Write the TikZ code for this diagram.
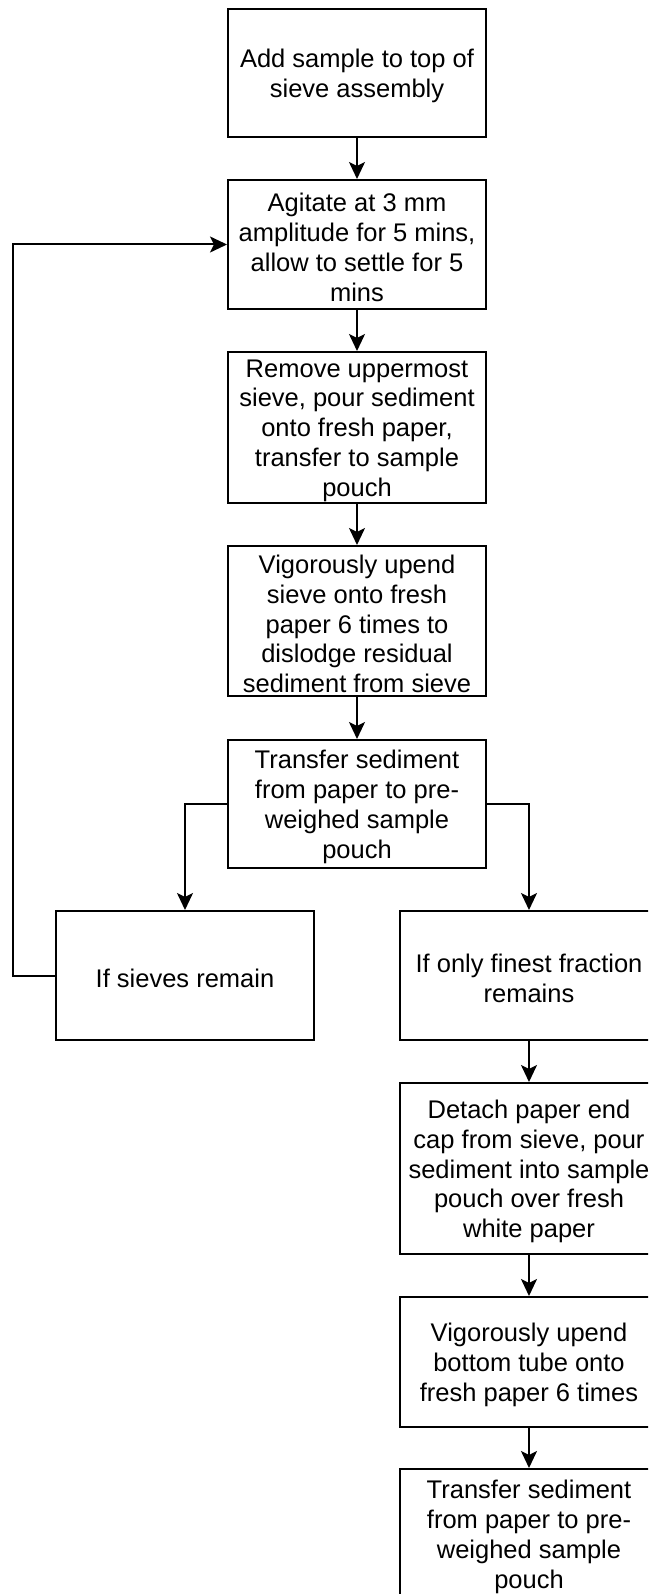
\documentclass[tikz,border=0pt]{standalone}
\usepackage{fontspec}
\setmainfont{Liberation Sans}
\usetikzlibrary{arrows.meta}
\tikzset{
  stepbox/.style={draw=black,line width=2pt,minimum width=258pt,inner sep=0pt,fill=white},
  steptext/.style={align=center,inner sep=0pt,yshift=-3pt,font=\fontsize{25.5pt}{29.8pt}\selectfont},
  arr/.style={draw=black,line width=2pt,-{Stealth[length=17pt,width=16pt,inset=4pt]}}
}
\begin{document}
\begin{tikzpicture}[x=1pt,y=-1pt]
\useasboundingbox (0,0) rectangle (648,1594);
\clip (0,0) rectangle (648,1594);
\fill[white] (0,0) rectangle (648,1594);
% main column
\node[stepbox,minimum height=128pt] (b1) at (357,73) {};
\node[steptext] (t1) at (b1) {Add sample to top of\\sieve assembly};
\node[stepbox,minimum height=129pt] (b2) at (357,244.5) {};
\node[steptext] (t2) at (b2) {Agitate at 3 mm\\amplitude for 5 mins,\\allow to settle for 5\\mins};
\node[stepbox,minimum height=151pt] (b3) at (357,427.5) {};
\node[steptext] (t3) at (b3) {Remove uppermost\\sieve, pour sediment\\onto fresh paper,\\transfer to sample\\pouch};
\node[stepbox,minimum height=150pt] (b4) at (357,621) {};
\node[steptext] (t4) at (b4) {Vigorously upend\\sieve onto fresh\\paper 6 times to\\dislodge residual\\sediment from sieve};
\node[stepbox,minimum height=128pt] (b5) at (357,804) {};
\node[steptext] (t5) at (b5) {Transfer sediment\\from paper to pre-\\weighed sample\\pouch};
% branches
\node[stepbox,minimum height=129pt] (sv) at (185,975.5) {};
\node[steptext] (tsv) at (sv) {If sieves remain};
\node[stepbox,minimum height=129pt] (fn) at (529,975.5) {};
\node[steptext] (tfn) at (fn) {If only finest fraction\\remains};
\node[stepbox,minimum height=171pt] (dt) at (529,1168.5) {};
\node[steptext] (tdt) at (dt) {Detach paper end\\cap from sieve, pour\\sediment into sample\\pouch over fresh\\white paper};
\node[stepbox,minimum height=130pt] (vg) at (529,1362) {};
\node[steptext] (tvg) at (vg) {Vigorously upend\\bottom tube onto\\fresh paper 6 times};
\node[stepbox,minimum height=130pt] (fl) at (529,1534) {};
\node[steptext] (tfl) at (fl) {Transfer sediment\\from paper to pre-\\weighed sample\\pouch};
% connectors
\draw[arr] (b1.south) -- (b2.north);
\draw[arr] (b2.south) -- (b3.north);
\draw[arr] (b3.south) -- (b4.north);
\draw[arr] (b4.south) -- (b5.north);
\draw[arr] (b5.west) -| (sv.north);
\draw[arr] (b5.east) -| (fn.north);
\coordinate (lp) at (13,975.5);
\draw[arr] (sv.west) -- (lp) |- (b2.west);
\draw[arr] (fn.south) -- (dt.north);
\draw[arr] (dt.south) -- (vg.north);
\draw[arr] (vg.south) -- (fl.north);
\end{tikzpicture}
\end{document}
